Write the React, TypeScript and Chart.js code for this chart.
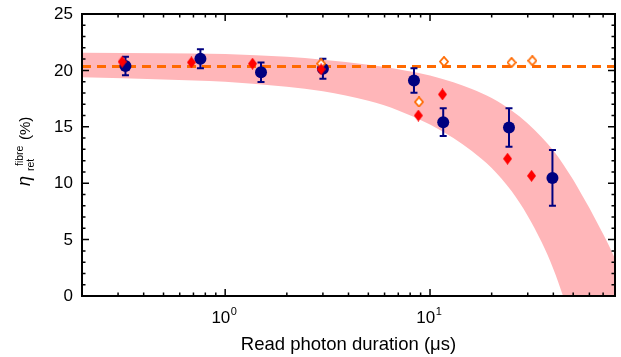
import React, { useEffect, useRef } from "react";
import { Chart, registerables } from "chart.js";

Chart.register(...registerables);

// Navy circles with error bars
const durations = [0.326, 0.757, 1.496, 3.0, 8.35, 11.6, 24.3, 39.6];
const efficiency = [20.39, 21.03, 19.83, 20.15, 19.1, 15.41, 14.94, 10.47];
const efficiencyErr = [0.82, 0.84, 0.86, 0.89, 1.08, 1.23, 1.7, 2.47];

// Red filled diamonds
const redDurations = [0.314, 0.684, 1.36, 2.94, 8.77, 11.5, 23.9, 31.3];
const redEfficiency = [20.77, 20.71, 20.6, 20.1, 16.0, 17.87, 12.17, 10.65];

// Orange open diamonds
const openDurations = [2.94, 8.83, 11.7, 25.0, 31.6];
const openEfficiency = [20.6, 17.2, 20.78, 20.7, 20.86];

// Dashed reference level
const dashedDurations = [0.2, 80];
const dashedLevel = [20.35, 20.35];

// Shaded band (upper and lower edges)
const bandDurations = [0.2, 0.5, 1, 2, 3, 5, 7, 10, 13, 16, 20, 25, 30, 35, 40, 45, 50, 55, 60, 65, 70, 75, 80];
const bandUpper = [21.57, 21.52, 21.45, 21.2, 20.95, 20.5, 20.1, 19.55, 18.95, 18.35, 17.55, 16.45, 15.3, 14.1, 12.9, 11.6, 10.3, 9.0, 7.8, 6.6, 5.5, 4.4, 3.3];
const bandLower = [19.39, 19.2, 19.0, 18.55, 18.15, 17.3, 16.45, 15.2, 14.0, 12.85, 11.35, 9.3, 7.1, 4.8, 2.4, -0.2, -2.8, -5.4, -8, -10.5, -13, -15.5, -18];

// Axes
const xMin = 0.2;
const xMax = 80;
const yMin = 0;
const yMax = 25;
const xMajorTicks = [1, 10];
const xMajorExponents = ["0", "1"];
const xMinorTicks = [0.3, 0.4, 0.5, 0.6, 0.7, 0.8, 0.9, 2, 3, 4, 5, 6, 7, 8, 9, 20, 30, 40, 50, 60, 70];
const yMajorTicks = [0, 5, 10, 15, 20, 25];
const yMinorTicks = [1, 2, 3, 4, 6, 7, 8, 9, 11, 12, 13, 14, 16, 17, 18, 19, 21, 22, 23, 24];

const xTitle = "Read photon duration (\u03bcs)";

const NAVY = "#000080";
const RED = "#FF0000";
const ORANGE = "#FF6A00";
const PINK = "rgb(255,182,185)";
const NAVY_INDEX = 2;

function makeDiamond(w: number, h: number, fill: string, stroke: string | null, lw: number) {
  const c = document.createElement("canvas");
  c.width = w;
  c.height = h;
  const ctx = c.getContext("2d")!;
  const inset = stroke ? lw / 2 : 0;
  ctx.beginPath();
  ctx.moveTo(w / 2, inset);
  ctx.lineTo(w - inset, h / 2);
  ctx.lineTo(w / 2, h - inset);
  ctx.lineTo(inset, h / 2);
  ctx.closePath();
  ctx.fillStyle = fill;
  ctx.fill();
  if (stroke) {
    ctx.strokeStyle = stroke;
    ctx.lineWidth = lw;
    ctx.stroke();
  }
  return c;
}

const pts = (xs: number[], ys: number[]) => xs.map((x, i) => ({ x, y: ys[i] }));

const decor = {
  id: "decor",
  beforeDatasetDraw(chart: any, args: any) {
    if (args.index !== NAVY_INDEX) return;
    const { ctx } = chart;
    const xs = chart.scales.x;
    const ys = chart.scales.y;
    ctx.save();
    ctx.strokeStyle = NAVY;
    ctx.lineWidth = 2;
    durations.forEach((d, i) => {
      const px = xs.getPixelForValue(d);
      const top = ys.getPixelForValue(efficiency[i] + efficiencyErr[i]);
      const bot = ys.getPixelForValue(efficiency[i] - efficiencyErr[i]);
      ctx.beginPath();
      ctx.moveTo(px, top);
      ctx.lineTo(px, bot);
      ctx.moveTo(px - 3.5, top);
      ctx.lineTo(px + 3.5, top);
      ctx.moveTo(px - 3.5, bot);
      ctx.lineTo(px + 3.5, bot);
      ctx.stroke();
    });
    ctx.restore();
  },
  afterDraw(chart: any) {
    const { ctx, chartArea: a } = chart;
    const xs = chart.scales.x;
    const ys = chart.scales.y;
    ctx.save();
    // frame
    ctx.strokeStyle = "#000";
    ctx.lineWidth = 2;
    ctx.strokeRect(a.left, a.top, a.right - a.left, a.bottom - a.top);
    // ticks (inward, on all four sides)
    ctx.lineWidth = 1.5;
    ctx.beginPath();
    const xt = (v: number, len: number) => {
      const p = xs.getPixelForValue(v);
      ctx.moveTo(p, a.bottom);
      ctx.lineTo(p, a.bottom - len);
      ctx.moveTo(p, a.top);
      ctx.lineTo(p, a.top + len);
    };
    const yt = (v: number, len: number) => {
      const p = ys.getPixelForValue(v);
      ctx.moveTo(a.left, p);
      ctx.lineTo(a.left + len, p);
      ctx.moveTo(a.right, p);
      ctx.lineTo(a.right - len, p);
    };
    xMajorTicks.forEach((v) => xt(v, 7));
    xMinorTicks.forEach((v) => xt(v, 3.5));
    yMajorTicks.forEach((v) => yt(v, 7));
    yMinorTicks.forEach((v) => yt(v, 3.5));
    ctx.stroke();

    ctx.fillStyle = "#000";
    // y tick labels
    ctx.font = '17px "Liberation Sans", Arial, sans-serif';
    ctx.textAlign = "right";
    ctx.textBaseline = "middle";
    yMajorTicks.forEach((v) => {
      ctx.fillText(String(v), a.left - 9, ys.getPixelForValue(v) + 0.5);
    });
    // x tick labels with superscript exponent
    ctx.textAlign = "left";
    ctx.textBaseline = "alphabetic";
    xMajorTicks.forEach((v, i) => {
      const p = xs.getPixelForValue(v);
      ctx.font = '17px "Liberation Sans", Arial, sans-serif';
      const w1 = ctx.measureText("10").width;
      ctx.font = '11px "Liberation Sans", Arial, sans-serif';
      const w2 = ctx.measureText(xMajorExponents[i]).width;
      const start = p - 1 - (w1 + w2 + 0.5) / 2;
      ctx.font = '17px "Liberation Sans", Arial, sans-serif';
      ctx.fillText("10", start, a.bottom + 27);
      ctx.font = '11px "Liberation Sans", Arial, sans-serif';
      ctx.fillText(xMajorExponents[i], start + w1 + 0.5, a.bottom + 19);
    });
    // x title
    ctx.font = '18.5px "Liberation Sans", Arial, sans-serif';
    ctx.textAlign = "center";
    ctx.fillText(xTitle, (a.left + a.right) / 2, a.bottom + 54);
    // y title: eta with sub/superscripts
    ctx.save();
    ctx.translate(30, 186);
    ctx.rotate(-Math.PI / 2);
    ctx.textAlign = "left";
    ctx.font = 'italic 18px "Liberation Sans", Arial, sans-serif';
    ctx.fillText("\u03b7", 0, 0);
    ctx.font = '10.5px "Liberation Sans", Arial, sans-serif';
    ctx.fillText("ret", 15, 4);
    ctx.fillText("fibre", 20, -7);
    ctx.font = '15px "Liberation Sans", Arial, sans-serif';
    ctx.fillText("(%)", 46, 0);
    ctx.restore();
    ctx.restore();
  },
};

export default function App() {
  const ref = useRef<HTMLCanvasElement | null>(null);
  useEffect(() => {
    document.body.style.margin = "0";
    const redDiamond = makeDiamond(9, 12, RED, null, 0);
    const openDiamond = makeDiamond(10, 11, "#FFFFFF", ORANGE, 1.8);
    const chart = new Chart(ref.current!, {
      type: "line",
      data: {
        datasets: [
          {
            label: "red",
            data: pts(redDurations, redEfficiency),
            showLine: false,
            pointStyle: redDiamond as any,
            pointRadius: 5,
            pointHoverRadius: 5,
          },
          {
            label: "open",
            data: pts(openDurations, openEfficiency),
            showLine: false,
            pointStyle: openDiamond as any,
            pointRadius: 5,
            pointHoverRadius: 5,
          },
          {
            label: "navy",
            data: pts(durations, efficiency),
            showLine: false,
            pointStyle: "circle",
            pointRadius: 6,
            pointBackgroundColor: NAVY,
            pointBorderWidth: 0,
            pointBorderColor: NAVY,
          },
          {
            label: "dashed",
            data: pts(dashedDurations, dashedLevel),
            borderColor: ORANGE,
            borderWidth: 3,
            borderDash: [9, 6],
            pointRadius: 0,
            fill: false,
          },
          {
            label: "upper",
            data: pts(bandDurations, bandUpper),
            borderWidth: 0,
            borderColor: "rgba(0,0,0,0)",
            backgroundColor: PINK,
            pointRadius: 0,
            fill: "+1",
            cubicInterpolationMode: "monotone",
          },
          {
            label: "lower",
            data: pts(bandDurations, bandLower),
            borderWidth: 0,
            borderColor: "rgba(0,0,0,0)",
            pointRadius: 0,
            fill: false,
            cubicInterpolationMode: "monotone",
          },
        ],
      },
      options: {
        animation: false,
        responsive: false,
        layout: { padding: { left: 82, top: 14, right: 5, bottom: 61 } },
        plugins: { legend: { display: false }, tooltip: { enabled: false } },
        scales: {
          x: { type: "logarithmic", min: xMin, max: xMax, display: false },
          y: { type: "linear", min: yMin, max: yMax, display: false },
        },
      },
      plugins: [decor],
    });
    return () => chart.destroy();
  }, []);
  return (
    <div style={{ width: 621, height: 357 }}>
      <canvas ref={ref} width={621} height={357} style={{ display: "block" }} />
    </div>
  );
}
